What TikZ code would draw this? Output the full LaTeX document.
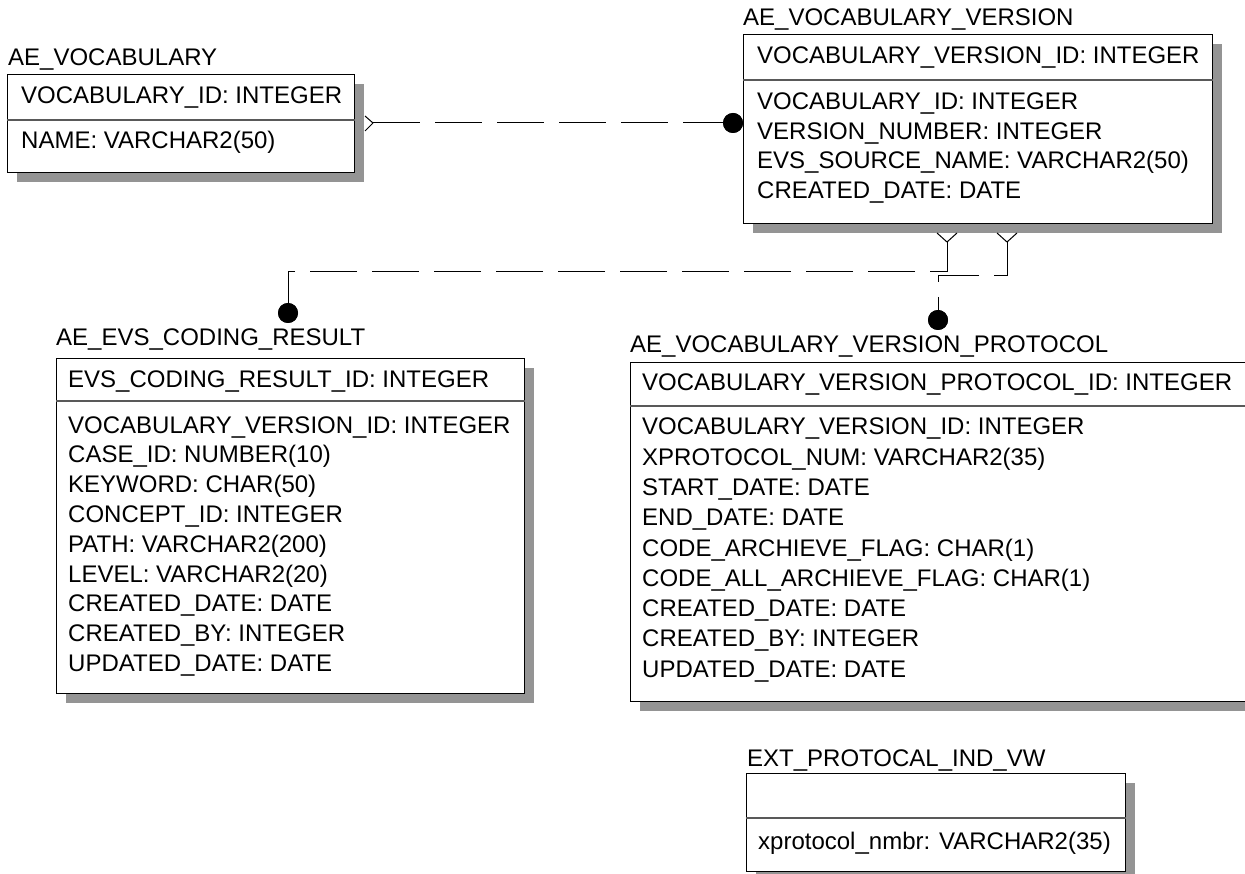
\documentclass[tikz,border=0pt]{standalone}
\usepackage{fontspec}
\setmainfont{Liberation Sans}
\usetikzlibrary{shadows}
\tikzset{
  entity/.style={draw=black, line width=1.2pt, fill=white, inner sep=0pt, anchor=north west,
    drop shadow={shadow xshift=9pt, shadow yshift=-9pt, fill=black!42, opacity=1}},
  txt/.style={anchor=base west, inner sep=0pt, font=\fontsize{24}{29}\selectfont},
  divline/.style={draw=black!65, line width=1.2pt},
  conn/.style={line width=1pt, dash pattern=on 47pt off 15pt},
  foot/.style={line width=1pt},
  blob/.style={circle, fill=black, minimum size=20pt, inner sep=0pt}
}
\begin{document}
\begin{tikzpicture}[x=1pt,y=-1pt]
\useasboundingbox (0,0) rectangle (1245,874);
\fill[white] (0,0) rectangle (1245,874);
\clip (0,0) rectangle (1245,874);

% ---------- entity boxes ----------
\node[entity, minimum width=347pt, minimum height=98pt] (voc) at (7,74) {};
\node[entity, minimum width=469pt, minimum height=189pt] (vv) at (743,34) {};
\node[entity, minimum width=468pt, minimum height=335pt] (evs) at (56,358) {};
\node[entity, minimum width=640pt, minimum height=339pt] (prot) at (630,362) {};
\node[entity, minimum width=379pt, minimum height=98pt] (ext) at (746,773) {};

% dividers
\draw[divline] (voc.west |- 0,120) -- (voc.east |- 0,120);
\draw[divline] (vv.west |- 0,80) -- (vv.east |- 0,80);
\draw[divline] (evs.west |- 0,401) -- (evs.east |- 0,401);
\draw[divline] (prot.west |- 0,406) -- (prot.east |- 0,406);
\draw[divline] (ext.west |- 0,818) -- (ext.east |- 0,818);

% ---------- texts ----------
\node[txt] (tvoc) at (8,66) {AE\_VOCABULARY};
\node[txt] (voc1) at (21,104) {VOCABULARY\_ID: INTEGER};
\node[txt] (voc2) at (21,149) {NAME: VARCHAR2(50)};

\node[txt] (tvv) at (743,26) {AE\_VOCABULARY\_VERSION};
\node[txt] (vv0) at (757,64) {VOCABULARY\_VERSION\_ID: INTEGER};
\node[txt] (vv1) at (757,110) {VOCABULARY\_ID: INTEGER};
\node[txt] (vv2) at (757,139.5) {VERSION\_NUMBER: INTEGER};
\node[txt] (vv3) at (757,169) {EVS\_SOURCE\_NAME: VARCHAR2(50)};
\node[txt] (vv4) at (757,198.5) {CREATED\_DATE: DATE};

\node[txt] (tevs) at (56,346) {AE\_EVS\_CODING\_RESULT};
\node[txt] (evs0) at (68,388) {EVS\_CODING\_RESULT\_ID: INTEGER};
\node[txt] (evs1) at (68,433) {VOCABULARY\_VERSION\_ID: INTEGER};
\node[txt] (evs2) at (68,462.8) {CASE\_ID: NUMBER(10)};
\node[txt] (evs3) at (68,492.6) {KEYWORD: CHAR(50)};
\node[txt] (evs4) at (68,522.4) {CONCEPT\_ID: INTEGER};
\node[txt] (evs5) at (68,552.2) {PATH: VARCHAR2(200)};
\node[txt] (evs6) at (68,582) {LEVEL: VARCHAR2(20)};
\node[txt] (evs7) at (68,611.8) {CREATED\_DATE: DATE};
\node[txt] (evs8) at (68,641.6) {CREATED\_BY: INTEGER};
\node[txt] (evs9) at (68,671.4) {UPDATED\_DATE: DATE};

\node[txt] (tprot) at (630,353) {AE\_VOCABULARY\_VERSION\_PROTOCOL};
\node[txt] (p0) at (642,391) {VOCABULARY\_VERSION\_PROTOCOL\_ID: INTEGER};
\node[txt] (p1) at (642,435) {VOCABULARY\_VERSION\_ID: INTEGER};
\node[txt] (p2) at (642,465.25) {XPROTOCOL\_NUM: VARCHAR2(35)};
\node[txt] (p3) at (642,495.5) {START\_DATE: DATE};
\node[txt] (p4) at (642,525.75) {END\_DATE: DATE};
\node[txt] (p5) at (642,556) {CODE\_ARCHIEVE\_FLAG: CHAR(1)};
\node[txt] (p6) at (642,586.25) {CODE\_ALL\_ARCHIEVE\_FLAG: CHAR(1)};
\node[txt] (p7) at (642,616.5) {CREATED\_DATE: DATE};
\node[txt] (p8) at (642,646.75) {CREATED\_BY: INTEGER};
\node[txt] (p9) at (642,677) {UPDATED\_DATE: DATE};

\node[txt] (text) at (747,766) {EXT\_PROTOCAL\_IND\_VW};
\node[txt] (ext1) at (758,849) {xprotocol\_nmbr: VARCHAR2(35)};

% ---------- connectors ----------
\coordinate (vocfoot) at (373,123);
\coordinate (vvf1) at (947,242);
\coordinate (vvf2) at (1007,242);
\node[blob] (vvdot) at (733,123) {};
\node[blob] (evsdot) at (288,313) {};
\node[blob] (protdot) at (938,320) {};

\draw[foot] (vocfoot) -- ++(-8,-7) (vocfoot) -- ++(-8,8);
\draw[foot] (vvf1) -- ++(-10,-9) (vvf1) -- ++(10,-9);
\draw[foot] (vvf2) -- ++(-10,-9) (vvf2) -- ++(10,-9);

\draw[conn] (vocfoot) -- (vvdot.center);
\draw[conn] (vvf1) -- ++(0,30) -| (evsdot.center);
\draw[conn] (vvf2) -- ++(0,34) -| (protdot.center);

\node[blob] at (vvdot) {};
\node[blob] at (evsdot) {};
\node[blob] at (protdot) {};
\end{tikzpicture}
\end{document}
